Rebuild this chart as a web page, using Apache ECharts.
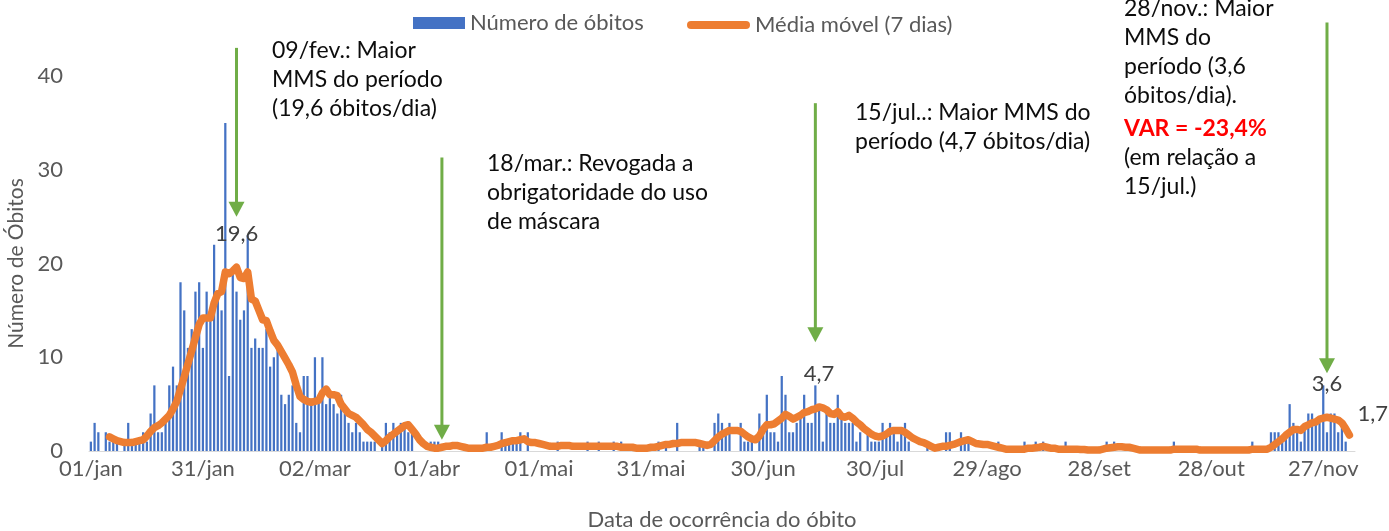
<!DOCTYPE html>
<html>
<head>
<meta charset="utf-8">
<script src="https://cdn.jsdelivr.net/npm/echarts@6/dist/echarts.min.js"></script>
<style>
  html, body { margin: 0; padding: 0; background: #ffffff; }
  #chart { width: 1389px; height: 531px; }
</style>
</head>
<body>
<div id="chart"></div>
<script>
// Daily deaths (one value per day from 01/jan) and the 7-day moving average.
const monthNames = ['jan', 'fev', 'mar', 'abr', 'mai', 'jun', 'jul', 'ago', 'set', 'out', 'nov', 'dez'];
const monthLengths = [31, 28, 31, 30, 31, 30, 31, 31, 30, 31, 30, 31];
const axisDays = 339;          // 01/jan .. 05/dez
const labelStep = 30;          // one tick label every 30 days

const deaths = [
  1, 3, 2, 0, 2, 1, 1, 1, 0, 1,
  3, 1, 1, 1, 2, 1, 4, 7, 2, 2,
  3, 7, 9, 7, 18, 15, 11, 13, 17, 18,
  11, 17, 14, 22, 17, 15, 35, 8, 19, 17,
  14, 15, 23, 11, 12, 11, 11, 13, 9, 10,
  11, 6, 5, 6, 7, 3, 2, 8, 8, 5,
  10, 6, 10, 5, 6, 5, 4, 6, 4, 3,
  2, 3, 2, 1, 1, 1, 1, 0, 1, 3,
  2, 3, 2, 3, 3, 2, 2, 0, 0, 0,
  0, 1, 1, 1, 0, 0, 0, 0, 0, 0,
  0, 0, 0, 0, 0, 0, 2, 0, 0, 0,
  2, 1, 1, 1, 1, 2, 0, 2, 0, 0,
  0, 0, 0, 0, 0, 1, 0, 0, 0, 0,
  0, 0, 0, 1, 0, 0, 1, 0, 0, 0,
  1, 0, 1, 0, 0, 0, 0, 0, 0, 0,
  0, 0, 1, 0, 1, 0, 0, 3, 0, 0,
  0, 0, 0, 1, 1, 0, 0, 3, 4, 3,
  2, 3, 0, 0, 3, 1, 1, 1, 0, 4,
  2, 6, 2, 2, 1, 8, 6, 2, 2, 3,
  4, 6, 3, 3, 7, 5, 1, 4, 3, 3,
  6, 4, 3, 3, 3, 1, 2, 0, 2, 1,
  1, 1, 3, 2, 3, 2, 1, 2, 3, 1,
  0, 0, 0, 0, 1, 0, 0, 0, 0, 2,
  2, 0, 0, 2, 1, 1, 0, 0, 0, 0,
  0, 0, 0, 1, 0, 0, 0, 0, 0, 0,
  1, 0, 0, 1, 0, 1, 0, 0, 0, 0,
  0, 1, 0, 0, 0, 0, 0, 0, 0, 0,
  0, 0, 1, 0, 1, 0, 0, 0, 0, 0,
  0, 0, 0, 0, 0, 0, 0, 0, 0, 0,
  1, 0, 0, 0, 0, 0, 0, 0, 0, 0,
  0, 0, 0, 0, 0, 0, 0, 0, 0, 0,
  0, 1, 0, 0, 0, 0, 2, 2, 2, 1,
  2, 5, 3, 2, 1, 3, 4, 4, 3, 3,
  7, 2, 4, 4, 2, 3, 1, 0
];

const movingAvg = [
  null, null, null, null, null, 1.5, 1.3, 1.1, 1.0, 0.9,
  0.9, 0.9, 1.0, 1.1, 1.2, 1.6, 2.1, 2.5, 2.7, 3.0,
  3.4, 3.8, 4.5, 5.3, 6.6, 7.9, 9.3, 10.7, 12.1, 13.5,
  14.2, 14.2, 14.2, 15.8, 16.8, 17.0, 19.1, 18.9, 19.2, 19.6,
  18.5, 18.4, 19.1, 16.2, 16.0, 15.0, 14.0, 13.9, 12.8, 11.8,
  11.3, 10.6, 9.9, 9.2, 8.4, 7.0, 5.8, 5.5, 5.3, 5.2,
  5.3, 5.4, 6.2, 6.6, 6.0, 6.0, 5.9, 5.0, 4.5, 4.0,
  3.8, 3.6, 3.2, 2.8, 2.3, 2.0, 1.6, 1.2, 0.8, 1.1,
  1.5, 1.8, 2.1, 2.4, 2.7, 2.8, 2.3, 1.8, 1.2, 0.8,
  0.5, 0.4, 0.3, 0.3, 0.4, 0.5, 0.5, 0.6, 0.6, 0.5,
  0.4, 0.3, 0.3, 0.3, 0.3, 0.3, 0.4, 0.4, 0.5, 0.6,
  0.8, 0.9, 1.0, 1.1, 1.1, 1.2, 1.3, 1.0, 0.9, 0.9,
  0.8, 0.7, 0.6, 0.5, 0.5, 0.5, 0.6, 0.6, 0.6, 0.5,
  0.5, 0.5, 0.5, 0.5, 0.5, 0.5, 0.5, 0.5, 0.5, 0.5,
  0.5, 0.5, 0.4, 0.4, 0.4, 0.4, 0.3, 0.3, 0.3, 0.3,
  0.4, 0.4, 0.5, 0.6, 0.7, 0.7, 0.8, 0.8, 0.9, 0.9,
  0.9, 0.9, 0.9, 0.8, 0.7, 0.6, 0.7, 1.1, 1.5, 1.8,
  2.0, 2.2, 2.2, 2.2, 2.1, 1.8, 1.5, 1.3, 1.2, 1.6,
  2.3, 2.8, 2.8, 2.9, 3.2, 3.5, 3.9, 3.7, 3.4, 3.6,
  3.8, 4.1, 4.2, 4.4, 4.5, 4.7, 4.6, 4.4, 4.0, 3.9,
  4.2, 3.7, 3.6, 3.8, 3.5, 3.1, 2.8, 2.4, 2.1, 1.8,
  1.6, 1.5, 1.6, 1.8, 2.1, 2.2, 2.2, 2.2, 2.0, 1.7,
  1.4, 1.2, 1.0, 0.9, 0.7, 0.5, 0.3, 0.4, 0.5, 0.5,
  0.6, 0.7, 0.85, 1.0, 1.1, 1.2, 1.0, 0.8, 0.75, 0.7,
  0.7, 0.6, 0.5, 0.4, 0.3, 0.2, 0.2, 0.2, 0.2, 0.2,
  0.2, 0.3, 0.3, 0.35, 0.4, 0.5, 0.4, 0.3, 0.3, 0.2,
  0.2, 0.2, 0.2, 0.2, 0.2, 0.15, 0.15, 0.1, 0.1, 0.1,
  0.1, 0.2, 0.3, 0.35, 0.4, 0.45, 0.45, 0.4, 0.4, 0.3,
  0.2, 0.1, 0.1, 0.1, 0.1, 0.1, 0.1, 0.1, 0.1, 0.1,
  0.2, 0.2, 0.2, 0.2, 0.2, 0.2, 0.2, 0.1, 0.1, 0.1,
  0.1, 0.1, 0.1, 0.1, 0.1, 0.1, 0.1, 0.1, 0.1, 0.1,
  0.1, 0.2, 0.2, 0.2, 0.2, 0.2, 0.4, 0.7, 1.0, 1.3,
  1.7, 2.0, 2.3, 2.3, 2.2, 2.6, 2.8, 3.0, 3.1, 3.4,
  3.5, 3.6, 3.5, 3.4, 3.3, 3.0, 2.4, 1.7
];

// Points of the moving average that carry a value label, and where it sits.
const labelledPoints = { 39: 'top', 195: 'top', 331: 'top', 337: 'right' };

// Callout arrows: [day index, value at the arrow tail, value at the arrow tip]
const arrows = [
  [39, 43.0, 25.0],
  [94, 31.3, 1.2],
  [194, 37.1, 11.6],
  [331, 45.7, 8.3]
];

const seriesNames = ['Número de óbitos', 'Média móvel (7 dias)'];
const axisTitles = { x: 'Data de ocorrência do óbito', y: 'Número de Óbitos' };

// Build the daily category names (dd/mmm)
const categories = [];
for (let m = 0; m < 12 && categories.length < axisDays; m++) {
  for (let d = 1; d <= monthLengths[m] && categories.length < axisDays; d++) {
    categories.push(String(d).padStart(2, '0') + '/' + monthNames[m]);
  }
}

const fmt = v => String(v).replace('.', ',');
const FONT = 'Lato, "Open Sans", sans-serif';
const GREY = '#595959';
const ORANGE = '#ED7D31';
const BLUE = '#4472C4';

// Value labels sit on the moving-average points they describe
const valueLabels = Object.keys(labelledPoints).map(k => {
  const i = Number(k);
  const right = labelledPoints[k] === 'right';
  return {
    coord: [i, movingAvg[i]],
    value: movingAvg[i],
    label: right
      ? { position: 'right', distance: 8, offset: [0, -21] }
      : { position: 'top', distance: 22 }
  };
});

const chart = echarts.init(document.getElementById('chart'), null, { renderer: 'canvas' });

const legendText = { fontFamily: FONT, fontSize: 22, color: GREY };

chart.setOption({
  backgroundColor: '#ffffff',
  animation: false,
  textStyle: { fontFamily: FONT },
  grid: { left: 89, right: 34, top: 76, bottom: 80, containLabel: false, outerBoundsMode: 'none' },
  legend: [
    {
      top: 7,
      left: 408,
      itemWidth: 52,
      itemHeight: 12,
      itemGap: 6,
      textStyle: legendText,
      data: [{ name: seriesNames[0], icon: 'rect', itemStyle: { color: BLUE } }]
    },
    {
      top: 9,
      left: 682,
      itemWidth: 63,
      itemHeight: 8,
      itemGap: 4,
      textStyle: legendText,
      data: [{
        name: seriesNames[1],
        icon: 'path://M4,0 L59,0 A4,4 0 0 1 59,8 L4,8 A4,4 0 0 1 4,0 Z',
        itemStyle: { color: ORANGE }
      }]
    }
  ],
  xAxis: {
    type: 'category',
    data: categories,
    boundaryGap: true,
    name: axisTitles.x,
    nameLocation: 'middle',
    nameGap: 58,
    nameTextStyle: { fontFamily: FONT, fontSize: 22, color: GREY },
    axisLine: { lineStyle: { color: '#d9d9d9', width: 1 } },
    axisTick: {
      alignWithLabel: true,
      length: 5,
      interval: i => i % labelStep === 0,
      lineStyle: { color: '#d9d9d9' }
    },
    axisLabel: {
      interval: i => i % labelStep === 0,
      fontFamily: FONT,
      fontSize: 22,
      color: GREY,
      margin: 7
    },
    splitLine: { show: false }
  },
  yAxis: {
    type: 'value',
    min: 0,
    max: 40,
    interval: 10,
    name: axisTitles.y,
    nameLocation: 'middle',
    nameGap: 53,
    nameRotate: 90,
    nameTextStyle: { fontFamily: FONT, fontSize: 21, color: GREY },
    axisLine: { show: false },
    axisTick: { show: false },
    splitLine: { show: false },
    axisLabel: { fontFamily: FONT, fontSize: 22, color: GREY, margin: 26 }
  },
  series: [
    {
      name: seriesNames[0],
      type: 'bar',
      data: deaths,
      barWidth: '60%',
      itemStyle: { color: BLUE },
      z: 2
    },
    {
      name: seriesNames[1],
      type: 'line',
      data: movingAvg,
      symbol: 'none',
      showSymbol: false,
      connectNulls: false,
      lineStyle: { color: ORANGE, width: 7.5, cap: 'round', join: 'round' },
      itemStyle: { color: ORANGE },
      markPoint: {
        symbol: 'circle',
        symbolSize: 0,
        silent: true,
        label: {
          show: true,
          fontFamily: FONT,
          fontSize: 22,
          color: '#404040',
          formatter: p => fmt(p.value)
        },
        data: valueLabels
      },
      z: 3
    }
  ]
});

// Callout texts and green arrows
const GREEN = '#70AD47';
const noteStyle = { fontFamily: FONT, fontSize: 23, fill: '#0d0d0d', lineHeight: 29 };
const graphics = [];
arrows.forEach(([idx, fromV, toV]) => {
  const a = chart.convertToPixel({ gridIndex: 0 }, [idx, fromV]);
  const b = chart.convertToPixel({ gridIndex: 0 }, [idx, toV]);
  const headH = 15, headW = 8;
  graphics.push({
    type: 'line',
    shape: { x1: a[0], y1: a[1], x2: b[0], y2: b[1] - headH + 1 },
    style: { stroke: GREEN, lineWidth: 3 },
    silent: true
  });
  graphics.push({
    type: 'polygon',
    shape: { points: [[b[0] - headW, b[1] - headH], [b[0] + headW, b[1] - headH], [b[0], b[1]]] },
    style: { fill: GREEN },
    silent: true
  });
});

const notes = [
  { x: 272, y: 36, text: '09/fev.: Maior\nMMS do período\n(19,6 óbitos/dia)' },
  { x: 487, y: 149, text: '18/mar.: Revogada a\nobrigatoridade do uso\nde máscara' },
  { x: 855, y: 98, text: '15/jul..: Maior MMS do\nperíodo (4,7 óbitos/dia)' },
  { x: 1124, y: -6, text: '28/nov.: Maior\nMMS do\nperíodo (3,6\nóbitos/dia).' },
  { x: 1124, y: 114, text: 'VAR = -23,4%', extra: { fill: '#ff0000', fontWeight: 'bold' } },
  { x: 1124, y: 143, text: '(em relação a\n15/jul.)' }
];
notes.forEach(n => {
  graphics.push({
    type: 'text',
    x: n.x,
    y: n.y,
    silent: true,
    style: Object.assign({ text: n.text, verticalAlign: 'top', align: 'left' }, noteStyle, n.extra || {})
  });
});

chart.setOption({ graphic: graphics });
</script>
</body>
</html>
